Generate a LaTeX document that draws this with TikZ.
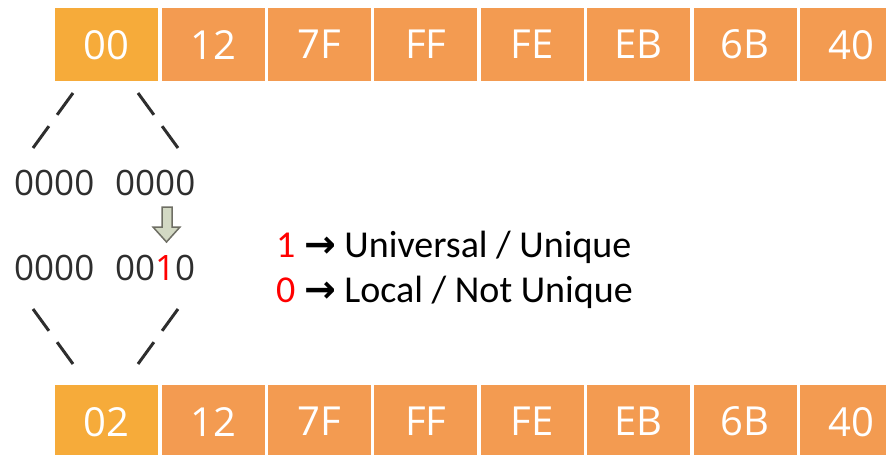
\documentclass[tikz,border=0pt]{standalone}
\usepackage{fontspec}
\setmainfont{Carlito}
\newfontfamily\boxfont{Open Sans}
\newfontfamily\symfont{DejaVu Sans}
\definecolor{firstbox}{HTML}{F6AB3A}
\definecolor{bytebox}{HTML}{F39B51}
\definecolor{bintext}{HTML}{2E2E2E}
\definecolor{arrowfill}{HTML}{D3D9C4}
\definecolor{arrowline}{HTML}{6E6E64}
\definecolor{legred}{HTML}{FF0000}
\begin{document}
\begin{tikzpicture}[x=1pt,y=-1pt,
  bytecell/.style={fill=bytebox, minimum width=103pt, minimum height=73pt, inner sep=0pt, text=white, font=\boxfont\fontsize{40}{48}\selectfont, anchor=north west},
  firstcell/.style={bytecell, fill=firstbox},
  bintxt/.style={text=bintext, font=\boxfont\fontsize{35}{42}\selectfont, inner sep=0pt, anchor=base west},
  dashline/.style={draw=bintext, line width=3pt, dash pattern=on 27pt off 14pt},
  legend/.style={font=\fontsize{38}{46}\selectfont, inner sep=0pt, anchor=base west}]
\useasboundingbox (0,0) rectangle (886,455);
\clip (0,0) rectangle (886,455);
% top row
\node[firstcell] (t0) at (55,8) {00};
\foreach \i/\t in {1/12,2/7F,3/FF,4/FE,5/EB,6/6B,7/40}{
  \node[bytecell] (t\i) at (55+106.4*\i,8) {\t};
}
% bottom row
\node[firstcell] (b0) at (55,385) {02};
\foreach \i/\t in {1/12,2/7F,3/FF,4/FE,5/EB,6/6B,7/40}{
  \node[bytecell] (b\i) at (55+106.4*\i,385) {\t};
}
% binary
\node[bintxt] (r1a) at (14,195) {0000};
\node[bintxt] (r1b) at (115,195) {0000};
\node[bintxt] (r2a) at (14,280) {0000};
\node[bintxt] (r2b) at (115,280) {00\textcolor{legred}{1}0};
% dashed connectors
\coordinate (tlA) at (73,93);  \coordinate (tlB) at (33,148);
\coordinate (trA) at (138,93); \coordinate (trB) at (178,148);
\coordinate (blA) at (33,309); \coordinate (blB) at (73,364);
\coordinate (brA) at (178,309);\coordinate (brB) at (138,364);
\draw[dashline] (tlA) -- (tlB);
\draw[dashline] (trA) -- (trB);
\draw[dashline] (blA) -- (blB);
\draw[dashline] (brA) -- (brB);
% block arrow
\draw[fill=arrowfill, draw=arrowline, line width=1.5pt, line join=miter]
  (162,207) -- (172,207) -- (172,227) -- (180,227) -- (166.5,242) -- (153,227) -- (162,227) -- cycle;
% legend
\node[legend] (l1) at (276,257) {\textcolor{legred}{1} {\symfont\bfseries→} Universal / Unique};
\node[legend] (l2) at (276,302) {\textcolor{legred}{0} {\symfont\bfseries→} Local / Not Unique};
\end{tikzpicture}
\end{document}
